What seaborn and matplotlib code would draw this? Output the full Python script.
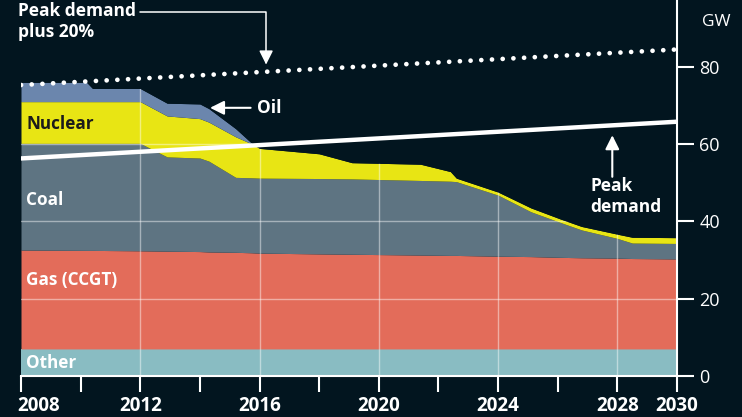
import numpy as np
import pandas as pd
import matplotlib
matplotlib.use("Agg")
import matplotlib.pyplot as plt
import matplotlib.transforms as mtransforms
import seaborn as sns

# Colours
BG = "#02151f"
C_OTHER = "#89bcc2"
C_GAS = "#e36c5a"
C_COAL = "#5e7482"
C_NUCLEAR = "#e8e514"
C_OIL = "#6b86ad"

# Capacity by source (GW, layer thickness), read at the chart's break points
years = [2008, 2010.2, 2010.4, 2012.0, 2012.9, 2014.0, 2014.3, 2015.2, 2015.7, 2016.0, 2018.0,
         2019.1, 2021.4, 2022.4, 2022.6, 2024.0, 2025.1, 2026.1, 2026.8, 2028.0, 2028.5, 2030.0]
other = [7.0] * 22
gas = [25.6, 25.5, 25.5, 25.4, 25.3, 25.2, 25.1, 25.0, 24.9, 24.8, 24.6,
       24.5, 24.3, 24.2, 24.2, 24.0, 23.9, 23.7, 23.6, 23.5, 23.4, 23.3]
coal = [27.6, 27.7, 27.7, 27.8, 24.4, 24.2, 23.5, 19.4, 19.4, 19.4, 19.5,
        19.5, 19.3, 19.2, 19.1, 15.8, 11.6, 9.0, 7.2, 5.1, 4.0, 4.0]
nuclear = [10.8, 10.8, 10.8, 10.8, 10.6, 10.2, 10.1, 10.5, 8.9, 7.7, 6.4,
           4.2, 4.2, 2.5, 0.9, 0.8, 1.0, 0.9, 0.9, 1.1, 1.5, 1.5]
oil = [5.0, 5.0, 3.4, 3.4, 3.3, 3.8, 3.5, 2.1, 0.3, 0, 0,
       0, 0, 0, 0, 0, 0, 0, 0, 0, 0, 0]

# Demand lines (GW)
demand_years = [2008, 2030]
peak_demand = [56.3, 65.8]
peak_plus20 = [75.3, 84.5]

x_ticks = [2008, 2010, 2012, 2014, 2016, 2018, 2020, 2022, 2024, 2026, 2028, 2030]
x_labels = ["2008", "", "2012", "", "2016", "", "2020", "", "2024", "", "2028", "2030"]
y_ticks = [0, 20, 40, 60, 80]
grid_x = [2012, 2016, 2020, 2024, 2028]
grid_y = [20, 40, 60]

sns.set_theme(style="white", rc={"axes.facecolor": BG, "figure.facecolor": BG})
plt.rcParams["font.family"] = ["Open Sans", "DejaVu Sans"]

fig = plt.figure(figsize=(7.42, 4.17), dpi=100)
ax = fig.add_axes([21 / 742, 41 / 417, 656 / 742, 376 / 417])

ax.stackplot(years, other, gas, coal, nuclear, oil,
             colors=[C_OTHER, C_GAS, C_COAL, C_NUCLEAR, C_OIL], lw=0, zorder=1)

# grid only shows inside the filled areas
for gx in grid_x:
    ax.axvline(gx, color="white", alpha=0.45, lw=1, zorder=1.5)
for gy in grid_y:
    ax.axhline(gy, color="white", alpha=0.45, lw=1, zorder=1.5)
total = np.sum([other, gas, coal, nuclear, oil], axis=0)
ax.fill_between(years, total, 100, color=BG, lw=0, zorder=1.8)

demand = pd.DataFrame({"year": demand_years, "peak": peak_demand, "plus20": peak_plus20})
sns.lineplot(data=demand, x="year", y="peak", color="white", lw=3.2, ax=ax, zorder=3)
sns.lineplot(data=demand, x="year", y="plus20", color="white", lw=3.4, ax=ax, zorder=3,
             linestyle=(0, (0.01, 2.26)), dash_capstyle="round")
ax.set_xlabel("")
ax.set_ylabel("")

ax.set_xlim(2008, 2030)
ax.set_ylim(0, 97.3)
ax.set_xticks(x_ticks)
ax.set_xticklabels(x_labels)
ax.set_yticks(y_ticks)
ax.yaxis.tick_right()
ax.tick_params(axis="x", colors="white", length=11.5, width=1.5, pad=3, labelsize=13.5, bottom=True)
ax.tick_params(axis="y", colors="white", length=12, width=1.5, pad=4, labelsize=13, right=True, left=False)
for lab in ax.get_xticklabels():
    lab.set_fontweight("bold")
first = ax.get_xticklabels()[0]
first.set_ha("left")
first.set_transform(first.get_transform() + mtransforms.ScaledTranslation(-4 / 100, 0, fig.dpi_scale_trans))

for side in ["left", "top"]:
    ax.spines[side].set_visible(False)
for side in ["bottom", "right"]:
    ax.spines[side].set_color("white")
    ax.spines[side].set_linewidth(1.5)

# area labels
ax.text(2008.17, 65.2, "Nuclear", color="#1b1b1b", fontsize=12.3, fontweight="bold", va="center", zorder=4)
ax.text(2008.17, 45.5, "Coal", color="white", fontsize=12.3, fontweight="bold", va="center", zorder=4)
ax.text(2008.17, 24.8, "Gas (CCGT)", color="white", fontsize=12.3, fontweight="bold", va="center", zorder=4)
ax.text(2008.17, 3.4, "Other", color="white", fontsize=12.3, fontweight="bold", va="center", zorder=4)

# annotations
fig.text(18 / 742, 1 - 2 / 417, "Peak demand\nplus 20%", color="white", fontsize=12.5,
         fontweight="bold", va="top", ha="left", linespacing=1.2)
ax.annotate("", xy=(2016.22, 80.6), xytext=(2012.0, 94.2), annotation_clip=False,
            arrowprops=dict(arrowstyle="-|>,head_length=0.6,head_width=0.3", color="white", lw=1.1,
                            connectionstyle="angle,angleA=0,angleB=90,rad=0",
                            shrinkA=0, shrinkB=0, mutation_scale=14))
ax.annotate("", xy=(2014.34, 69.4), xytext=(2015.7, 69.4),
            arrowprops=dict(arrowstyle="-|>,head_length=0.6,head_width=0.3", color="white", lw=1.5,
                            shrinkA=0, shrinkB=0, mutation_scale=14))
ax.text(2015.92, 69.4, "Oil", color="white", fontsize=12.5, fontweight="bold", va="center", ha="left")
ax.annotate("", xy=(2027.83, 62.3), xytext=(2027.83, 51.55),
            arrowprops=dict(arrowstyle="-|>,head_length=0.6,head_width=0.3", color="white", lw=1.5,
                            shrinkA=0, shrinkB=0, mutation_scale=14))
ax.text(2027.1, 51.4, "Peak\ndemand", color="white", fontsize=12.5, fontweight="bold",
        va="top", ha="left", linespacing=1.2)

fig.text(716 / 742, 1 - 22 / 417, "GW", color="white", fontsize=12.5, va="center", ha="center")

fig.savefig("out.png", dpi=100, facecolor=BG)
